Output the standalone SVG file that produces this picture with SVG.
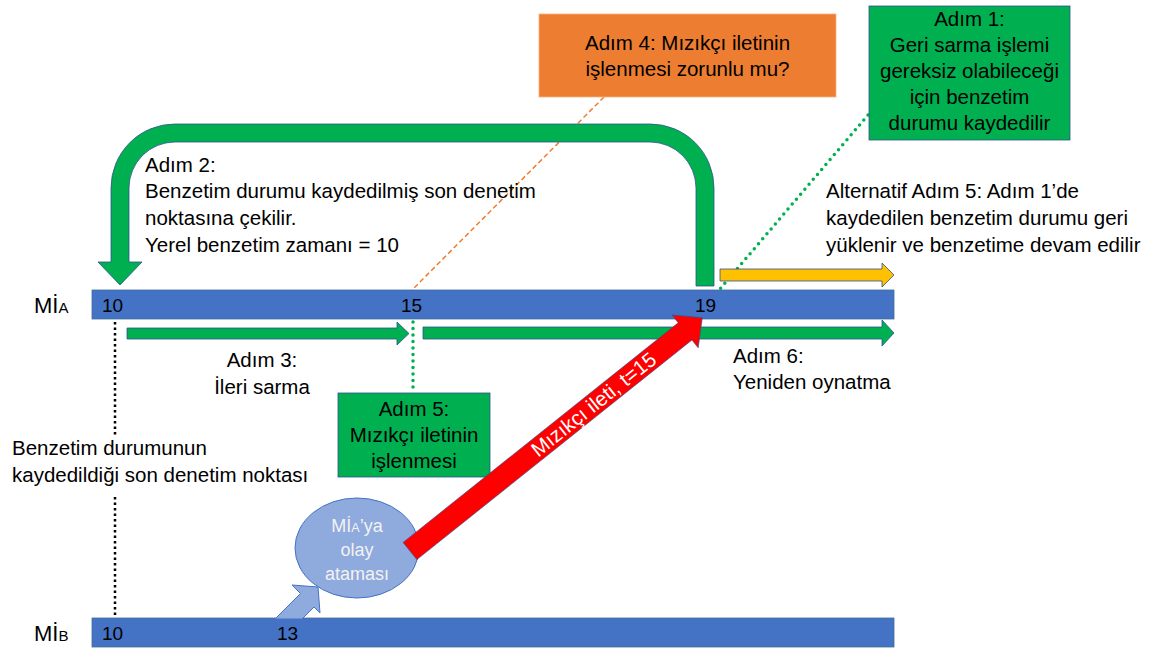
<svg xmlns="http://www.w3.org/2000/svg" width="1159" height="648" viewBox="0 0 1159 648">
  <style>
    text { font-family: "Liberation Sans", Arial, sans-serif; font-size: 20.5px; fill: #000; }
    .c { text-anchor: middle; }
    .num { font-size: 19px; }
    .sub { font-size: 15px; }
    .bar { fill: #4472C4; stroke: #41719C; stroke-width: 0.8; }
    .green { fill: #00B050; stroke: #2F528F; stroke-width: 0.8; }
    .orange { fill: #ED7D31; stroke: #F4B183; stroke-width: 0.8; }
    .yellow { fill: #FFC000; stroke: #2F528F; stroke-width: 0.8; }
    .red { fill: #FF0000; stroke: #2F528F; stroke-width: 0.6; }
    .light { fill: #8FAADC; stroke: #4472C4; stroke-width: 1; }
    .dotg { fill: none; stroke: #00B050; stroke-width: 3.5; stroke-linecap: round; stroke-dasharray: 0 6.5; }
    .dotk { fill: none; stroke: #000; stroke-width: 2.5; stroke-dasharray: 2.5 3; }
    .dash { fill: none; stroke: #ED7D31; stroke-width: 1.5; stroke-dasharray: 5 3; }
    .white { fill: #FFFFFF; }
    .pale { fill: #F2F2F2; font-size: 18px; }
  </style>

  <!-- guide lines: dotted markers and callout leaders -->
  <g id="connectors">
    <line class="dotk" x1="115" y1="322" x2="115" y2="437"/>
    <line class="dotk" x1="115" y1="497" x2="115" y2="615"/>
    <line class="dotg" x1="413" y1="322" x2="413" y2="392"/>
    <line class="dotg" x1="868" y1="115" x2="720" y2="289"/>
    <line class="dash" x1="604" y1="97" x2="412" y2="290"/>
  </g>

  <!-- process timeline A -->
  <g id="timeline-a">
    <rect class="bar" x="92" y="290" width="802" height="29"/>
    <text x="34" y="313" style="font-size:22px">Mİ<tspan class="sub">A</tspan></text>
    <text class="num" x="102" y="312">10</text>
    <text class="num" x="401" y="312">15</text>
    <text class="num" x="695" y="312">19</text>
  </g>

  <!-- process timeline B -->
  <g id="timeline-b">
    <rect class="bar" x="92" y="618" width="802" height="29"/>
    <text x="34" y="641" style="font-size:22px">Mİ<tspan class="sub">B</tspan></text>
    <text class="num" x="102" y="640">10</text>
    <text class="num" x="277" y="640">13</text>
  </g>

  <!-- step 2: rollback arrow -->
  <g id="rollback-arrow">
    <path class="green" d="M714,286 L714,188 A64,64 0 0 0 650,124 L175,124 A64,64 0 0 0 111,188 L111,262 L98,262 L120,285 L142,262 L129,262 L129,188 A46,46 0 0 1 175,142 L650,142 A46,46 0 0 1 696,188 L696,286 Z"/>
  </g>

  <g id="step2-label">
    <text x="145" y="172">Adım 2:</text>
    <text x="145" y="198">Benzetim durumu kaydedilmiş son denetim</text>
    <text x="145" y="225">noktasına çekilir.</text>
    <text x="145" y="252">Yerel benzetim zamanı = 10</text>
  </g>

  <!-- step 3: fast forward -->
  <g id="fast-forward">
    <polygon class="green" points="127,328 397,328 397,322 409,333.5 397,345 397,339 127,339"/>
    <text class="c" x="262" y="367">Adım 3:</text>
    <text class="c" x="262" y="394">İleri sarma</text>
  </g>

  <!-- step 6: replay -->
  <g id="replay">
    <polygon class="green" points="423,327 882,327 882,320 894,333 882,346 882,339 423,339"/>
    <text x="733" y="363">Adım 6:</text>
    <text x="733" y="389">Yeniden oynatma</text>
  </g>

  <!-- alternative step 5: restore and continue -->
  <g id="alt-step5">
    <polygon class="yellow" points="720,269 882,269 882,263 894,275 882,287 882,281 720,281"/>
    <text x="826" y="198">Alternatif Adım 5: Adım 1’de</text>
    <text x="826" y="225">kaydedilen benzetim durumu geri</text>
    <text x="826" y="252">yüklenir ve benzetime devam edilir</text>
  </g>

  <g id="checkpoint-label">
    <text x="12" y="455">Benzetim durumunun</text>
    <text x="12" y="482">kaydedildiği son denetim noktası</text>
  </g>

  <!-- step 5 box -->
  <g id="step5">
    <rect class="green" x="338" y="393" width="152" height="84"/>
    <text class="c" x="414" y="416">Adım 5:</text>
    <text class="c" x="414" y="442">Mızıkçı iletinin</text>
    <text class="c" x="414" y="468">işlenmesi</text>
  </g>

  <!-- step 4 box -->
  <g id="step4">
    <rect class="orange" x="539" y="14" width="297" height="83"/>
    <text class="c" x="687.5" y="50">Adım 4: Mızıkçı iletinin</text>
    <text class="c" x="687.5" y="76">işlenmesi zorunlu mu?</text>
  </g>

  <!-- step 1 box -->
  <g id="step1">
    <rect class="green" x="869" y="6" width="201" height="134"/>
    <text class="c" x="969.5" y="26">Adım 1:</text>
    <text class="c" x="969.5" y="52">Geri sarma işlemi</text>
    <text class="c" x="969.5" y="78">gereksiz olabileceği</text>
    <text class="c" x="969.5" y="104">için benzetim</text>
    <text class="c" x="969.5" y="130">durumu kaydedilir</text>
  </g>

  <!-- event assignment on B -->
  <g id="event">
    <polygon class="light" points="275,619 300.5,593.5 292,585 318,587 320,613 314,607 302,619"/>
    <ellipse class="light" cx="357" cy="548" rx="62" ry="50"/>
    <text class="c pale" x="357" y="532">Mİ<tspan style="font-size:12.5px">A</tspan>’ya</text>
    <text class="c pale" x="357" y="556">olay</text>
    <text class="c pale" x="357" y="580">ataması</text>
  </g>

  <!-- straggler message -->
  <g id="straggler" transform="translate(410,551) rotate(-38.6)">
    <polygon class="red" points="0,-11 352,-11 352,-21 374,0 352,21 352,11 0,11"/>
    <text class="c white" x="235" y="7">Mızıkçı ileti, t=15</text>
  </g>
</svg>
